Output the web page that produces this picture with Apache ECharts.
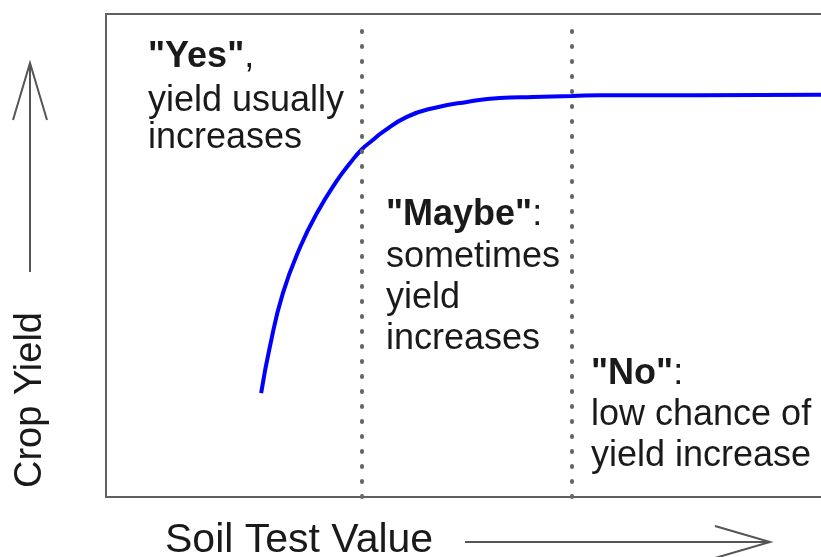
<!DOCTYPE html>
<html>
<head>
<meta charset="utf-8">
<title>Soil Test Value vs Crop Yield</title>
<script src="https://cdn.jsdelivr.net/npm/echarts@6/dist/echarts.min.js"></script>
<style>
  html, body { margin: 0; padding: 0; background: #fff; overflow: hidden; }
  #mychart { width: 821px; height: 557px; }
</style>
</head>
<body>
<div id="mychart"></div>
<script>
// 曲线数据 (读图估计, 坐标 0-100)
var soilTest = [21.4, 22.6, 24.4, 26.8, 29.1, 31.9, 33.7, 35.3, 36.8, 38.2, 41.5, 45.1, 49.8, 54.3, 58.9, 64.3, 68.1, 81.9, 100];
var cropYield = [21.5, 31.1, 42.2, 51.8, 58.8, 65.6, 69.2, 72.0, 73.9, 75.6, 78.7, 80.5, 81.8, 82.6, 82.8, 83.0, 83.2, 83.2, 83.3];
// 分区界线
var thresholds = [35.3, 64.3];
var zoneTop = 98.5;

var FONT = "'Liberation Sans', Arial, sans-serif";
var TEXT_COLOR = '#1a1a1a';
var Chart = null;

function getOption() {
  var points = [];
  for (var i = 0; i < soilTest.length; i++) {
    points.push([soilTest[i], cropYield[i]]);
  }
  var lines = thresholds.map(function (t) {
    return [{ coord: [t, 0] }, { coord: [t, zoneTop] }];
  });

  function txt(x, y, text, bold, size) {
    return {
      type: 'text',
      x: x,
      y: y,
      style: {
        text: text,
        font: (bold ? 'bold ' : '') + (size || 36) + 'px ' + FONT,
        fill: TEXT_COLOR,
        verticalAlign: 'middle'
      }
    };
  }

  function rich(x, y, word, tail) {
    return {
      type: 'text',
      x: x,
      y: y,
      style: {
        text: '{b|' + word + '}{n|' + tail + '}',
        verticalAlign: 'middle',
        rich: {
          b: { font: 'bold 36px ' + FONT, fill: TEXT_COLOR },
          n: { font: '36px ' + FONT, fill: TEXT_COLOR }
        }
      }
    };
  }

  var option = {
    animation: false,
    backgroundColor: '#fff',
    grid: {
      left: 106,
      width: 725,
      top: 14,
      bottom: 60,
      outerBoundsMode: 'none',
      containLabel: false,
      show: true,
      borderColor: '#606060',
      borderWidth: 2
    },
    xAxis: {
      type: 'value',
      min: 0,
      max: 100,
      axisLine: { show: false },
      axisTick: { show: false },
      axisLabel: { show: false },
      splitLine: { show: false }
    },
    yAxis: {
      type: 'value',
      min: 0,
      max: 100,
      axisLine: { show: false },
      axisTick: { show: false },
      axisLabel: { show: false },
      splitLine: { show: false }
    },
    series: [{
      type: 'line',
      data: points,
      smooth: 0.5,
      symbol: 'none',
      lineStyle: { color: '#0000ff', width: 4 },
      markLine: {
        silent: true,
        symbol: ['none', 'none'],
        label: { show: false },
        lineStyle: {
          color: '#666666',
          width: 4,
          type: [1, 14],
          cap: 'round'
        },
        data: lines
      }
    }],
    graphic: [
      // 文字说明
      rich(148, 57, '"Yes"', ','),
      txt(148, 101, 'yield usually'),
      txt(148, 138, 'increases'),
      rich(386, 215, '"Maybe"', ':'),
      txt(386, 257, 'sometimes'),
      txt(386, 298, 'yield'),
      txt(386, 339, 'increases'),
      rich(591, 374, '"No"', ':'),
      txt(591, 415, 'low chance of'),
      txt(591, 456, 'yield increase'),
      txt(165, 541, 'Soil Test Value', false, 41),
      {
        type: 'text',
        x: 31,
        y: 400,
        rotation: Math.PI / 2,
        style: {
          text: 'Crop Yield',
          font: '38px ' + FONT,
          fill: TEXT_COLOR,
          align: 'center',
          verticalAlign: 'middle'
        }
      },
      // 箭头
      {
        type: 'polyline',
        shape: { points: [[30, 272], [30, 63]] },
        style: { stroke: '#555', lineWidth: 2, fill: null }
      },
      {
        type: 'polyline',
        shape: { points: [[13, 120], [30, 63], [47, 120]] },
        style: { stroke: '#555', lineWidth: 2, fill: null }
      },
      {
        type: 'polyline',
        shape: { points: [[465, 542], [770, 542]] },
        style: { stroke: '#555', lineWidth: 2, fill: null }
      },
      {
        type: 'polyline',
        shape: { points: [[715, 526], [770, 542], [715, 558]] },
        style: { stroke: '#555', lineWidth: 2, fill: null }
      }
    ]
  };
  return option;
}

Chart = echarts.init(document.getElementById('mychart'), null, { renderer: 'canvas' });
Chart.setOption(getOption());
</script>
</body>
</html>
